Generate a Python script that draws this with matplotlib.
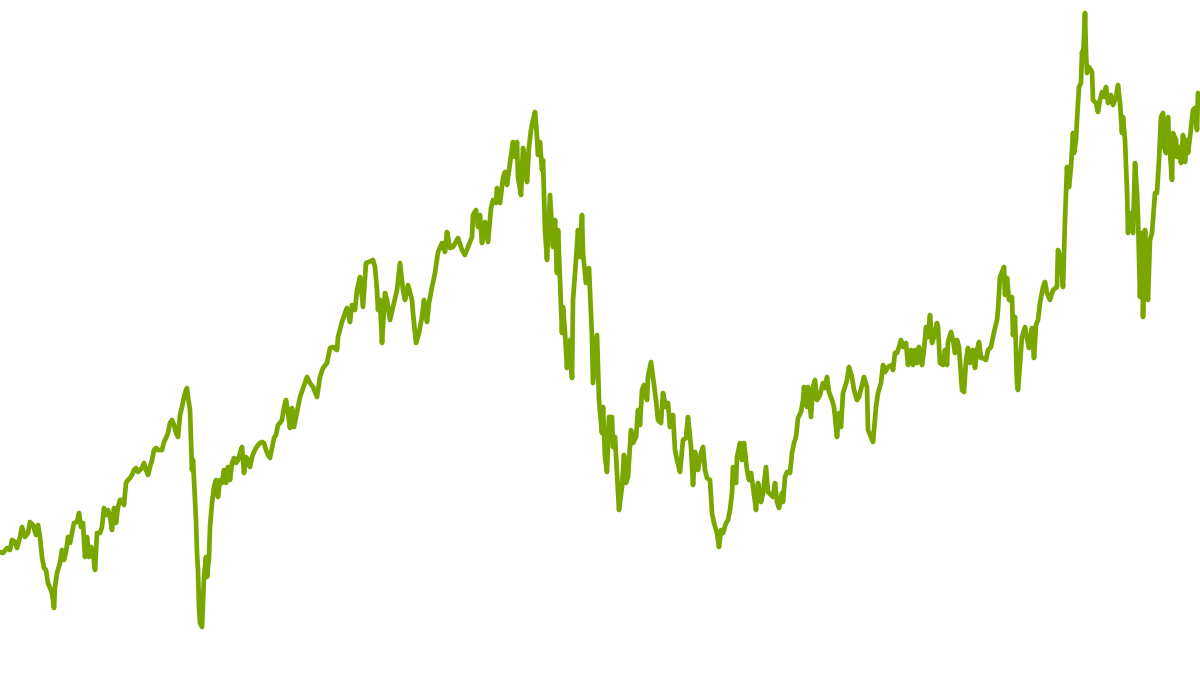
"""
    Single index line, no axes
"""
import matplotlib
matplotlib.use('Agg')
import matplotlib.pyplot as plt

# week number and index level
week = [0, 3, 7, 10, 12, 15, 17, 20, 22, 25, 28, 30, 33, 36, 38, 40, 42, 44, 46, 48, 50, 52, 54, 55, 57, 60,
        62, 64, 66, 68, 70, 72, 74, 77, 79, 81, 83, 85, 87, 89, 91, 93, 95, 97, 100, 102, 104, 106, 108, 110,
        112, 114, 116, 118, 120, 122, 124, 126, 128, 130, 132, 134, 136, 138, 140, 142, 144, 146, 148, 150,
        152, 154, 156, 158, 160, 162, 164, 166, 168, 170, 172, 174, 176, 178, 180, 182, 184, 186, 187, 188,
        190, 191, 192, 193, 194, 196, 197, 198, 199, 200, 202, 203, 204, 206, 207, 209, 210, 212, 214, 216,
        218, 220, 222, 224, 226, 228, 230, 232, 234, 236, 238, 240, 242, 244, 246, 248, 250, 252, 254, 256,
        258, 260, 262, 264, 266, 268, 270, 272, 274, 276, 278, 280, 282, 284, 286, 288, 290, 292, 294, 296,
        298, 300,
        307, 310, 313, 317, 320, 323, 327, 330, 333, 337, 338, 342, 345, 347, 350, 352, 355, 357, 360, 363,
        366, 369, 373, 375, 377, 378, 380, 382, 385, 387, 390, 393, 397, 400, 403, 405, 408, 412, 413, 416,
        419, 422, 424, 427, 429, 432, 435, 438, 442, 445, 447, 450, 453, 458, 462, 465, 468, 472, 473, 476,
        478, 480, 482, 485, 488, 491, 493, 496, 497, 500, 503, 505, 507, 510, 513, 515, 517, 518, 521, 523,
        525, 527, 529, 531, 533, 535, 537, 538, 540, 542, 543,
        545, 547, 550, 553, 555, 557, 558, 560, 562, 563, 565, 567, 570, 572, 573, 576, 578, 580, 582, 583,
        586, 589, 592, 593, 597, 599, 602, 603, 605, 607, 609, 612, 613, 615, 617, 619, 622, 624, 626, 628,
        631, 633, 636, 638, 640, 642, 644, 647, 648, 651, 653, 656, 658, 661, 663, 666, 668, 670, 673, 675,
        677, 680, 683, 686, 688, 691, 693, 695, 698, 701, 703, 705, 707, 710, 712, 714, 717, 719, 721, 723,
        726, 728, 730, 732, 733, 736, 737, 740, 742, 744, 747, 749, 751, 753, 756, 758, 761, 763, 766, 768,
        771, 773, 775, 777, 779, 782, 783, 785, 787, 790, 792, 794, 796, 798, 801, 803, 804, 807, 808, 811,
        813, 815, 817, 820, 823, 825, 827, 829, 832, 834, 837, 839, 841, 843,
        845, 847, 849, 852, 854, 857, 859, 862, 864, 867, 868, 871, 873, 876, 878, 881, 883, 885, 888, 892,
        893, 895, 897, 899, 901, 903, 906, 908, 911, 913, 915, 917, 919, 922, 924, 926, 928, 930, 932, 934,
        937, 938, 940, 943, 945, 947, 948, 951, 953, 955, 957, 959, 962, 964, 966, 968, 970, 973, 975, 977,
        979, 981, 983, 986, 988, 991, 993, 995, 997, 998, 1000, 1002, 1004, 1005, 1007, 1009, 1012, 1013,
        1015, 1017, 1018, 1020, 1022, 1025, 1027, 1029, 1032, 1034, 1036, 1038, 1040, 1043, 1045, 1047, 1050,
        1053, 1057, 1058, 1061, 1063, 1065, 1066, 1067, 1069, 1071, 1073, 1074, 1076, 1077, 1079, 1081, 1082,
        1083, 1085, 1086, 1087, 1089, 1092, 1093, 1096, 1098, 1100, 1102, 1104, 1106, 1108, 1111, 1113, 1116,
        1118, 1120, 1122, 1123, 1125, 1127, 1128, 1131, 1133, 1135, 1137, 1138, 1140, 1142, 1143, 1145, 1147,
        1148, 1150, 1152, 1153, 1155, 1157, 1159, 1161, 1163, 1164, 1166, 1168, 1169, 1172, 1173, 1176, 1177,
        1179, 1181, 1183, 1185, 1187, 1188, 1190, 1193, 1195, 1197, 1198, 1200]

level = [148, 147, 152, 150, 160, 158, 152, 163, 173, 163, 167, 178, 175, 165, 175, 163, 143, 132, 130, 117, 112,
         107, 92, 113, 127, 137, 150, 140, 148, 163, 157, 167, 177, 178, 187, 173, 177, 143, 163, 143, 153, 147,
         130, 167, 167, 173, 192, 185, 190, 183, 170, 192, 177, 193, 200, 200, 195, 217, 220, 222, 225, 230, 232,
         228, 230, 232, 237, 230, 225, 233, 240, 250, 252, 250, 250, 250, 258, 262, 267, 277, 280, 275, 267, 263,
         285, 293, 303, 310, 312, 303, 290, 260, 230, 240, 220, 180, 147, 130, 93, 77, 73, 97, 123, 143, 123, 143,
         173, 197, 213, 220, 203, 220, 217, 230, 217, 233, 220, 237, 242, 237, 240, 247, 253, 227, 243, 240, 233,
         243, 248, 252, 255, 257, 258, 257, 250, 245, 242, 252, 262, 265, 275, 277, 280, 293, 300, 287, 272, 292,
         273, 283, 293, 303,
         323, 317, 313, 303, 323, 332, 337, 352, 353, 350, 363, 378, 387, 392, 378, 395, 390, 410, 423, 393, 437,
         438, 440, 433, 410, 390, 400, 357, 407, 400, 380, 393, 410, 437, 410, 400, 415, 400, 387, 357, 367, 383,
         400, 378, 397, 413, 427, 448, 457, 448, 468, 452, 453, 462, 450, 445, 453, 463, 485, 490, 473, 485, 457,
         478, 458, 492, 500, 497, 512, 497, 522, 528, 515, 537, 558, 543, 558, 523, 505, 552, 542, 518, 553, 570,
         580, 588, 563, 545, 558, 530, 540,
         470, 440, 505, 453, 480, 427, 470, 420, 367, 393, 367, 332, 360, 322, 400, 440, 470, 443, 485, 447, 417,
         432, 363, 317, 365, 300, 267, 293, 243, 228, 283, 283, 253, 263, 227, 190, 213, 245, 217, 223, 270, 257,
         263, 290, 275, 310, 315, 300, 323, 338, 323, 300, 280, 277, 307, 293, 297, 273, 285, 250, 240, 228, 260,
         262, 283, 253, 215, 248, 230, 247, 253, 230, 222, 220, 187, 177, 167, 153, 170, 167, 177, 180, 190, 207,
         233, 217, 243, 257, 240, 257, 230, 220, 227, 213, 190, 217, 198, 207, 233, 208, 205, 203, 217, 198, 192,
         207, 198, 223, 228, 227, 247, 257, 263, 282, 288, 300, 313, 293, 313, 283, 313, 320, 300, 305, 317, 312,
         323, 308, 300, 293, 263, 287, 273, 307,
         313, 320, 333, 323, 310, 300, 303, 315, 323, 313, 270, 263, 258, 293, 307, 317, 335, 328, 333, 335, 330,
         347, 347, 353, 360, 353, 357, 335, 350, 335, 350, 337, 353, 335, 350, 373, 363, 385, 357, 363, 377, 373,
         337, 335, 350, 335, 358, 368, 360, 347, 360, 353, 310, 308, 340, 352, 337, 350, 332, 350, 358, 342, 342,
         340, 350, 353, 363, 372, 380, 390, 423, 428, 433, 405, 422, 400, 403, 365, 383, 317, 310, 337, 363, 373,
         362, 352, 372, 342, 375, 380, 397, 413, 418, 407, 400, 410, 413, 450, 440, 413, 480, 507, 533, 513, 533,
         567, 547, 560, 580, 613, 617, 648, 640, 687, 647, 627, 633, 628, 600, 597, 588, 600, 608, 603, 613, 597,
         605, 595, 603, 615, 597, 567, 583, 560, 510, 467, 487, 467, 537, 507, 483, 403, 467, 383, 470, 407, 400,
         460, 467, 480, 507, 507, 540, 583, 587, 553, 547, 583, 560, 520, 567, 560, 543, 553, 537, 565, 538, 560,
         547, 563, 590, 592, 570, 607, 600]

line_color = '#79a700'


def draw_line(week, level):
    fig = plt.figure(figsize=(12, 6.75), dpi=100)
    ax = fig.add_axes([0, 0, 1, 1])
    ax.plot(week, level, color=line_color, linewidth=3.4,
            solid_joinstyle='round', solid_capstyle='round')
    ax.set_xlim(0, 1200)
    ax.set_ylim(25, 700)
    ax.axis('off')
    fig.savefig('out.png', dpi=100, facecolor='white')
    # plt.show()


if __name__ == '__main__':
    print(len(week), len(level))
    draw_line(week, level)
